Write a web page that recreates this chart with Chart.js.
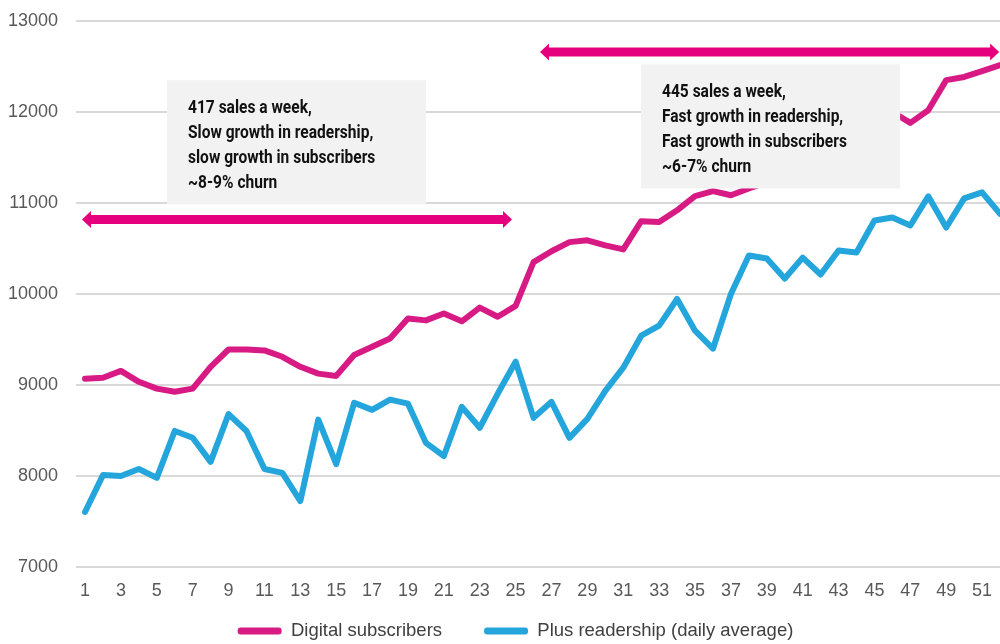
<!DOCTYPE html>
<html>
<head>
<meta charset="utf-8">
<script src="https://cdn.jsdelivr.net/npm/chart.js@4/dist/chart.umd.min.js"></script>
<style>
  html, body { margin: 0; padding: 0; background: #fff; overflow: hidden; }
  #wrap { width: 1032px; height: 644px; position: relative; }
</style>
</head>
<body>
<div id="wrap"><canvas id="c" width="1032" height="644"></canvas></div>
<script>
// ---- data ----
const weeks = Array.from({length: 52}, (_, i) => String(i + 1));
const digitalSubscribers = [
  9070, 9080, 9155, 9035, 8960, 8925, 8960, 9200, 9390, 9390,
  9380, 9310, 9200, 9125, 9100, 9330, 9420, 9510, 9730, 9710,
  9785, 9700, 9850, 9750, 9870, 10350, 10470, 10570, 10590, 10535,
  10490, 10800, 10790, 10920, 11075, 11130, 11085, 11160, 11230, 11340,
  11450, 11560, 11690, 11800, 11930, 12000, 11880, 12020, 12350, 12385,
  12450, 12515
];
const plusReadership = [
  7605, 8010, 8000, 8077, 7980, 8495, 8420, 8155, 8680, 8495,
  8077, 8035, 7725, 8620, 8130, 8805, 8727, 8840, 8795, 8364,
  8220, 8760, 8530, 8903, 9256, 8639, 8815, 8419, 8628, 8936,
  9190, 9542, 9652, 9945, 9597, 9399, 10000, 10423, 10390, 10170,
  10400, 10214, 10478, 10456, 10808, 10841, 10753, 11073, 10731, 11050,
  11117, 10880
];
const yTicks = [7000, 8000, 9000, 10000, 11000, 12000, 13000];
const seriesNames = ['Digital subscribers', 'Plus readership (daily average)'];

// annotation arrows (week range, value) and boxes (week range, value range, text)
const arrowLeft = { from: 0.83, to: 24.8, value: 10820 };
const arrowRight = { from: 26.36, to: 51.95, value: 12660 };
const noteBoxes = [
  { from: 5.57, to: 20.0, top: 12350, bottom: 10985,
    lines: ['417 sales a week,', 'Slow growth in readership,', 'slow growth in subscribers', '~8-9% churn'] },
  { from: 31.99, to: 46.43, top: 12525, bottom: 11160,
    lines: ['445 sales a week,', 'Fast growth in readership,', 'Fast growth in subscribers', '~6-7% churn'] }
];

const PINK = '#d81b84';
const ARROW = '#e5007d';
const BLUE = '#24a6dc';
const noteFont = "bold 18.5px Roboto, 'Liberation Sans', sans-serif";
const noteSqueeze = 0.84;
const LEGEND_SHIFT = { dx: 8, dy: -34.8 };

const annotationPlugin = {
  id: 'notes',
  afterLayout(chart) {
    const lg = chart.legend;
    if (lg) {
      lg.left += LEGEND_SHIFT.dx; lg.right += LEGEND_SHIFT.dx;
      lg.top += LEGEND_SHIFT.dy; lg.bottom += LEGEND_SHIFT.dy;
    }
  },
  afterDatasetsDraw(chart) {
    const {ctx, scales: {x, y}} = chart;
    const px = w => x.getPixelForValue(w - 1);
    ctx.save();
    noteBoxes.forEach(b => {
      const l = px(b.from), r = px(b.to), t = y.getPixelForValue(b.top), bt = y.getPixelForValue(b.bottom);
      ctx.fillStyle = '#f2f2f2';
      ctx.fillRect(l, t, r - l, bt - t);
      ctx.fillStyle = '#111';
      ctx.font = noteFont;
      ctx.textBaseline = 'middle';
      ctx.textAlign = 'left';
      b.lines.forEach((ln, i) => {
        ctx.save();
        ctx.translate(l + 21, t + 28.5 + i * 24.8);
        ctx.scale(noteSqueeze, 1);
        ctx.fillText(ln, 0, 0);
        ctx.restore();
      });
    });
    const drawArrow = a => {
      const l = px(a.from), r = px(a.to), cy = y.getPixelForValue(a.value);
      const headLen = 9, headHalf = 8.5, shaft = 4.5;
      ctx.fillStyle = ARROW;
      ctx.beginPath();
      ctx.moveTo(l, cy);
      ctx.lineTo(l + headLen, cy - headHalf);
      ctx.lineTo(l + headLen, cy - shaft);
      ctx.lineTo(r - headLen, cy - shaft);
      ctx.lineTo(r - headLen, cy - headHalf);
      ctx.lineTo(r, cy);
      ctx.lineTo(r - headLen, cy + headHalf);
      ctx.lineTo(r - headLen, cy + shaft);
      ctx.lineTo(l + headLen, cy + shaft);
      ctx.lineTo(l + headLen, cy + headHalf);
      ctx.closePath();
      ctx.fill();
    };
    drawArrow(arrowLeft);
    drawArrow(arrowRight);
    ctx.restore();
  }
};

new Chart(document.getElementById('c'), {
  type: 'line',
  data: {
    labels: weeks,
    datasets: [
      { label: seriesNames[0], data: digitalSubscribers, borderColor: PINK, backgroundColor: PINK,
        borderWidth: 6, pointRadius: 0, tension: 0, borderJoinStyle: 'round', borderCapStyle: 'round' },
      { label: seriesNames[1], data: plusReadership, borderColor: BLUE, backgroundColor: BLUE,
        borderWidth: 6, pointRadius: 0, tension: 0, borderJoinStyle: 'round', borderCapStyle: 'round' }
    ]
  },
  options: {
    responsive: false,
    animation: false,
    layout: { padding: { top: 21, left: 6, right: 23, bottom: -41.1 } },
    plugins: {
      tooltip: { enabled: false },
      legend: {
        position: 'bottom',
        labels: {
          color: '#404040',
          font: { family: "'Liberation Sans', Arial, sans-serif", size: 18.5 },
          boxWidth: 44,
          boxHeight: 7,
          padding: 42,
          useBorderRadius: true,
          borderRadius: 3,
          generateLabels(chart) {
            const items = Chart.defaults.plugins.legend.labels.generateLabels(chart);
            items.forEach(it => { it.fillStyle = it.strokeStyle; it.lineWidth = 0; });
            return items;
          }
        }
      }
    },
    scales: {
      x: {
        type: 'category',
        offset: true,
        grid: { display: false, drawTicks: false },
        border: { display: false },
        ticks: {
          color: '#595959',
          font: { family: "'Liberation Sans', Arial, sans-serif", size: 18 },
          autoSkip: false,
          maxRotation: 0,
          padding: 13,
          callback(v, i) { return (i % 2 === 0) ? weeks[i] : ''; }
        }
      },
      y: {
        min: yTicks[0],
        max: yTicks[yTicks.length - 1],
        afterBuildTicks(scale) { scale.ticks = yTicks.map(v => ({ value: v })); },
        grid: { color: '#d9d9d9', lineWidth: 2, drawTicks: true, tickLength: 16, tickColor: 'rgba(0,0,0,0)' },
        border: { display: false },
        ticks: {
          color: '#595959',
          font: { family: "'Liberation Sans', Arial, sans-serif", size: 18 },
          padding: 2,
          callback(v) { return String(v); }
        }
      }
    }
  },
  plugins: [annotationPlugin]
});
</script>
</body>
</html>
